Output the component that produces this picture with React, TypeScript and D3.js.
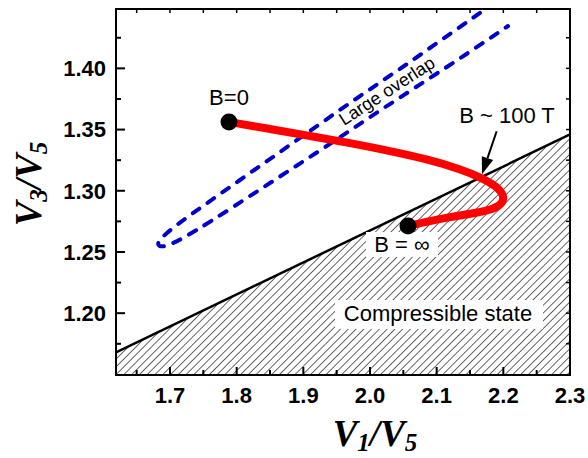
import React from 'react';
import * as d3 from 'd3';

const W = 588;
const H = 458;
const PLOT = { left: 116, right: 570, top: 9, bottom: 375 };

const X_DOMAIN = [1.619, 2.3];
const Y_DOMAIN = [1.1495, 1.4485];
const xTicks = [1.7, 1.8, 1.9, 2.0, 2.1, 2.2, 2.3];
const xMinor = [1.65, 1.75, 1.85, 1.95, 2.05, 2.15, 2.25];
const yTicks = [1.2, 1.25, 1.3, 1.35, 1.4];
const yMinor = [1.175, 1.225, 1.275, 1.325, 1.375, 1.425];

// red trajectory from B=0 to B=inf
const pathX = [1.7885, 1.85, 1.91, 1.97, 2.03, 2.09, 2.135, 2.168, 2.189, 2.201, 2.1995, 2.186, 2.159, 2.12, 2.0825, 2.057];
const pathY = [1.3562, 1.3505, 1.3448, 1.339, 1.3325, 1.3252, 1.3178, 1.3105, 1.3039, 1.2966, 1.29, 1.2851, 1.2819, 1.2786, 1.2745, 1.2712];

// dashed overlap region (upper branch, tip, lower branch)
const upperX = [2.165, 2.105, 2.045, 1.985, 1.925, 1.865, 1.805, 1.745, 1.7075, 1.688];
const upperY = [1.4453, 1.4224, 1.3995, 1.3775, 1.3546, 1.3317, 1.3088, 1.2859, 1.2712, 1.2622];
const tipX = [1.679, 1.6895];
const tipY = [1.2557, 1.2533];
const lowerX = [1.718, 1.76, 1.82, 1.88, 1.94, 2.0, 2.06, 2.12, 2.165, 2.207];
const lowerY = [1.2606, 1.2745, 1.2957, 1.317, 1.3382, 1.3603, 1.3815, 1.4028, 1.4191, 1.4346];

const boundaryX = [1.619, 2.3];
const boundaryY = [1.168, 1.346];

const arrowFrom = [2.19, 1.3486];
const arrowTo = [2.168, 1.3135];

export default function App() {
  const x = d3.scaleLinear().domain(X_DOMAIN).range([PLOT.left, PLOT.right]);
  const y = d3.scaleLinear().domain(Y_DOMAIN).range([PLOT.bottom, PLOT.top]);

  const smooth = d3.line<number[]>().x(d => x(d[0])).y(d => y(d[1])).curve(d3.curveBasis);

  const redPts = pathX.map((v, i) => [v, pathY[i]]);
  const loopX = [...upperX, ...tipX, ...lowerX];
  const loopY = [...upperY, ...tipY, ...lowerY];
  const loopPts = loopX.map((v, i) => [v, loopY[i]]);

  const hatch = [
    [x(boundaryX[0]), y(boundaryY[0])],
    [x(boundaryX[1]), y(boundaryY[1])],
    [PLOT.right, PLOT.bottom],
    [PLOT.left, PLOT.bottom],
  ].map(p => p.join(',')).join(' ');

  // arrow head
  const ax0 = x(arrowFrom[0]), ay0 = y(arrowFrom[1]);
  const ax1 = x(arrowTo[0]), ay1 = y(arrowTo[1]);
  const ang = Math.atan2(ay1 - ay0, ax1 - ax0);
  const hl = 17, hw = 6;
  const bx = ax1 - hl * Math.cos(ang), by = ay1 - hl * Math.sin(ang);
  const head = [
    [ax1, ay1],
    [bx + hw * Math.sin(ang), by - hw * Math.cos(ang)],
    [bx - hw * Math.sin(ang), by + hw * Math.cos(ang)],
  ].map(p => p.join(',')).join(' ');

  const tickFont = { fontFamily: 'Liberation Sans, Arial, sans-serif', fontWeight: 700, fontSize: 22 };
  const labelFont = { fontFamily: 'Liberation Sans, Arial, sans-serif', fontSize: 22 };
  const titleFont = { fontFamily: 'Liberation Serif, Times New Roman, serif', fontWeight: 700, fontStyle: 'italic' as const };

  return (
    <svg width={W} height={H} style={{ display: 'block', position: 'absolute', left: 0, top: 0, background: '#fff' }}>
      <defs>
        <clipPath id="plot">
          <rect x={PLOT.left} y={PLOT.top} width={PLOT.right - PLOT.left} height={PLOT.bottom - PLOT.top} />
        </clipPath>
        <pattern id="hatch" width={5.5} height={5.5} patternUnits="userSpaceOnUse" patternTransform="rotate(45)">
          <line x1={0} y1={0} x2={0} y2={5.5} stroke="#000" strokeWidth={1.2} />
        </pattern>
      </defs>

      <g clipPath="url(#plot)">
        <polygon points={hatch} fill="url(#hatch)" />
        <line x1={x(boundaryX[0])} y1={y(boundaryY[0])} x2={x(boundaryX[1])} y2={y(boundaryY[1])}
          stroke="#000" strokeWidth={2.5} />
        <path d={smooth(loopPts) ?? ''} fill="none" stroke="#0000CC" strokeWidth={4}
          strokeDasharray="8,10" strokeLinecap="round" />
      </g>

      {/* white label boxes */}
      <rect x={335} y={300} width={208} height={29} fill="#fff" />
      <rect x={366} y={232} width={72} height={25} fill="#fff" />

      <path d={smooth(redPts) ?? ''} fill="none" stroke="#FF0000" strokeWidth={8} strokeLinecap="round" />
      <circle cx={x(pathX[0])} cy={y(pathY[0])} r={8.5} fill="#000" />
      <circle cx={x(pathX[pathX.length - 1])} cy={y(pathY[pathY.length - 1])} r={8.5} fill="#000" />

      <line x1={ax0} y1={ay0} x2={bx} y2={by} stroke="#000" strokeWidth={2} />
      <polygon points={head} fill="#000" />

      <text x={x(pathX[0])} y={105} textAnchor="middle" {...labelFont}>B=0</text>
      <text x={507} y={123} textAnchor="middle" {...labelFont}>B ~ 100 T</text>
      <text x={402} y={252} textAnchor="middle" {...labelFont}>B = ∞</text>
      <text x={438} y={321} textAnchor="middle" {...labelFont}>Compressible state</text>
      <text transform="translate(344,126) rotate(-33)" fontFamily="Liberation Sans, Arial, sans-serif" fontSize={18}>Large overlap</text>

      {/* frame */}
      <rect x={PLOT.left} y={PLOT.top} width={PLOT.right - PLOT.left} height={PLOT.bottom - PLOT.top}
        fill="none" stroke="#000" strokeWidth={2} />

      {/* bottom + top ticks */}
      {xTicks.map(t => (
        <g key={'xt' + t}>
          <line x1={x(t)} x2={x(t)} y1={PLOT.bottom} y2={PLOT.bottom - 8} stroke="#000" strokeWidth={2} />
          <line x1={x(t)} x2={x(t)} y1={PLOT.top} y2={PLOT.top + 4} stroke="#000" strokeWidth={1.5} />
          <text x={x(t)} y={403} textAnchor="middle" {...tickFont}>{t.toFixed(1)}</text>
        </g>
      ))}
      {xMinor.map(t => (
        <g key={'xm' + t}>
          <line x1={x(t)} x2={x(t)} y1={PLOT.bottom} y2={PLOT.bottom - 5} stroke="#000" strokeWidth={2} />
          <line x1={x(t)} x2={x(t)} y1={PLOT.top} y2={PLOT.top + 4} stroke="#000" strokeWidth={1.5} />
        </g>
      ))}
      {/* left + right ticks */}
      {yTicks.map(t => (
        <g key={'yt' + t}>
          <line x1={PLOT.left} x2={PLOT.left + 9} y1={y(t)} y2={y(t)} stroke="#000" strokeWidth={2} />
          <line x1={PLOT.right} x2={PLOT.right - 4} y1={y(t)} y2={y(t)} stroke="#000" strokeWidth={1.5} />
          <text x={106} y={y(t)} dy="0.36em" textAnchor="end" {...tickFont}>{t.toFixed(2)}</text>
        </g>
      ))}
      {yMinor.map(t => (
        <g key={'ym' + t}>
          <line x1={PLOT.left} x2={PLOT.left + 5} y1={y(t)} y2={y(t)} stroke="#000" strokeWidth={2} />
          <line x1={PLOT.right} x2={PLOT.right - 4} y1={y(t)} y2={y(t)} stroke="#000" strokeWidth={1.5} />
        </g>
      ))}

      {/* axis titles */}
      <text x={375} y={446} textAnchor="middle" {...titleFont} fontSize={37}>
        V<tspan fontSize={25} dy={5}>1</tspan><tspan dy={-5}>/V</tspan><tspan fontSize={25} dy={5}>5</tspan>
      </text>
      <text transform="translate(41,184) rotate(-90)" textAnchor="middle" {...titleFont} fontSize={37}>
        V<tspan fontSize={25} dy={6}>3</tspan><tspan dy={-6}>/V</tspan><tspan fontSize={25} dy={6}>5</tspan>
      </text>
    </svg>
  );
}
